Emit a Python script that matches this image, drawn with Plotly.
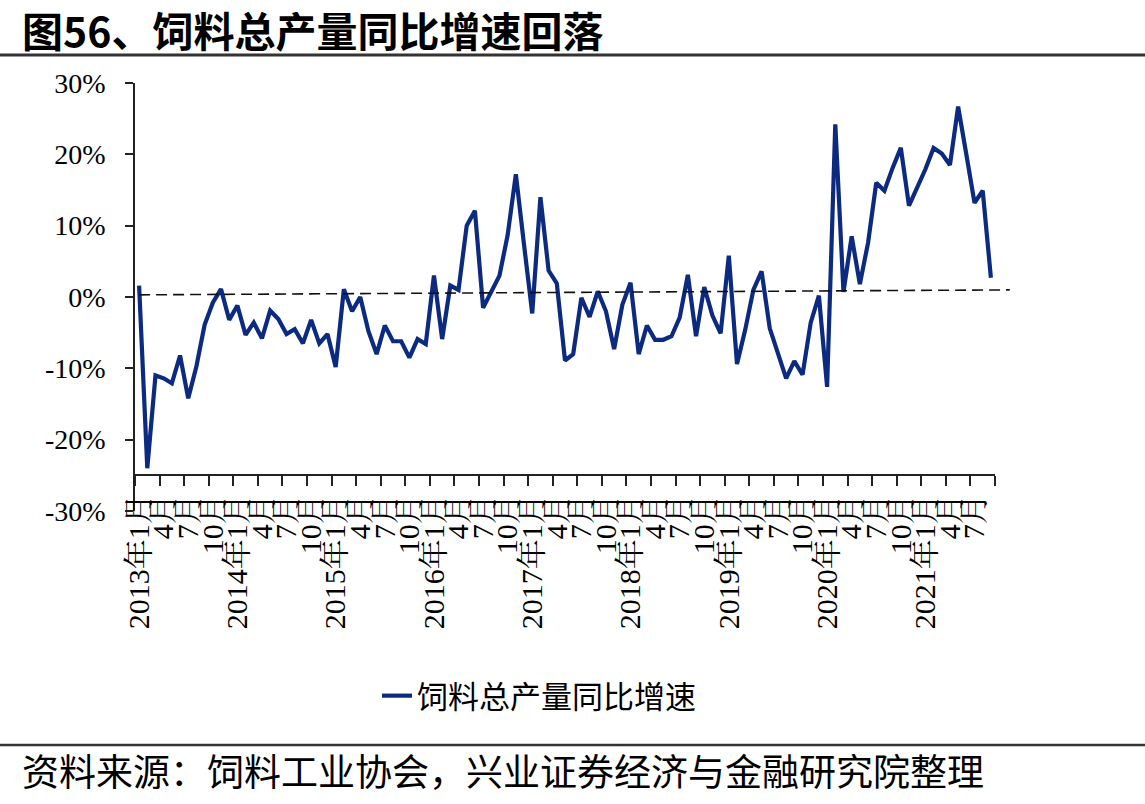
import plotly.graph_objects as go

# ---------------- data ----------------
start_year = 2013
growth = [  # 饲料总产量同比增速 (%), 2013-01 .. 2021-09
    1.6, -24.0, -11.0, -11.4, -12.1, -8.2, -14.2, -9.7, -3.9, -0.8, 1.1, -3.2,
    -1.2, -5.3, -3.6, -5.8, -1.9, -3.1, -5.2, -4.5, -6.5, -3.2, -6.5, -5.2,
    -9.8, 1.1, -2.0, 0.0, -4.8, -8.0, -4.0, -6.2, -6.2, -8.5, -5.9, -6.6,
    3.0, -5.9, 1.6, 1.0, 10.0, 12.1, -1.5, 0.6, 3.0, 8.7, 17.2, 7.3,
    -2.3, 14.0, 3.7, 1.9, -8.9, -8.0, -0.1, -2.8, 0.8, -2.0, -7.3, -1.1,
    2.0, -8.0, -4.0, -6.0, -6.0, -5.5, -2.9, 3.1, -5.5, 1.4, -2.6, -5.1,
    5.8, -9.4, -4.6, 1.0, 3.6, -4.4, -7.9, -11.4, -9.0, -10.9, -3.6, 0.2,
    -12.6, 24.2, 0.7, 8.5, 1.8, 7.6, 16.0, 14.9, 18.1, 20.9, 12.8, 15.3,
    17.9, 20.9, 20.1, 18.5, 26.7, 20.0, 13.2, 14.9, 2.7,
]
months = list(range(len(growth)))
month_labels = [
    (f"{start_year + i // 12}年{i % 12 + 1}月" if i % 12 == 0 else f"{i % 12 + 1}月")
    for i in months
]
label_idx = months[::3]
label_text = [month_labels[i] for i in label_idx]

ref_x = [0, 106.3]          # dashed reference line (start / end month index)
ref_y = [0.3, 1.0]

y_ticks = [-30, -20, -10, 0, 10, 20, 30]
y_tick_text = ["-30%", "-20%", "-10%", "0%", "10%", "20%", "30%"]

title = "图56、饲料总产量同比增速回落"
series_name = "饲料总产量同比增速"
source = "资料来源：饲料工业协会，兴业证券经济与金融研究院整理"

# ---------------- layout geometry ----------------
W, H = 1145, 804
L, R, T, B = 135, 100, 83, 293
PW = W - L - R
PH = H - T - B
n = len(growth)
main_w = 860
ext_w = 875
cat_w = main_w / n


def px2x(px):
    return (px - L) / PW


def py2y(py):
    return (H - B - py) / PH


serif = "Liberation Serif, Times New Roman, Noto Serif CJK SC, Noto Sans CJK SC, serif"
cjk = "Noto Sans CJK SC, sans-serif"
navy = "#0B2A80"

fig = go.Figure()
fig.add_trace(go.Scatter(
    x=months, y=growth, mode="lines", name=series_name,
    line=dict(color=navy, width=4.2), xaxis="x", yaxis="y",
))
fig.add_trace(go.Scatter(
    x=ref_x, y=ref_y, mode="lines", showlegend=False,
    line=dict(color="#111111", width=1.6, dash="11px,6px"), xaxis="x2", yaxis="y",
))

bounds = [i - 0.5 for i in range(0, n + 1, 3)]

fig.update_layout(
    width=W, height=H,
    margin=dict(l=L, r=R, t=T, b=B, autoexpand=False),
    paper_bgcolor="white", plot_bgcolor="rgba(0,0,0,0)",
    showlegend=True,
    xaxis=dict(
        domain=[0, main_w / PW], range=[-0.5, n - 0.5],
        anchor="free", position=5 / 60,
        tickmode="array", tickvals=label_idx, ticktext=label_text,
        ticks="", tickangle=-90, ticklabelstandoff=6,
        tickfont=dict(family=serif, size=30, color="black"),
        showline=True, linecolor="#222222", linewidth=1.6,
        showgrid=False, zeroline=False,
        minor=dict(tickmode="array", tickvals=bounds, ticks="outside",
                   ticklen=10, tickwidth=1.6, tickcolor="#222222", showgrid=False),
    ),
    xaxis2=dict(
        domain=[0, ext_w / PW], range=[-0.5, -0.5 + ext_w / cat_w],
        anchor="y", visible=False, showgrid=False, zeroline=False,
    ),
    yaxis=dict(
        domain=[0, 1], range=[-30, 30], anchor="x",
        tickmode="array", tickvals=y_ticks, ticktext=y_tick_text,
        ticks="outside", ticklen=8, tickwidth=1.6, tickcolor="#222222",
        ticklabelstandoff=14,
        tickfont=dict(family=serif, size=28, color="black"),
        showline=True, linecolor="#222222", linewidth=1.6,
        showgrid=False, zeroline=False,
    ),
    legend=dict(
        orientation="h", x=px2x(377), y=py2y(696), xanchor="left", yanchor="middle",
        font=dict(family=cjk, size=31, color="black"), bgcolor="rgba(0,0,0,0)",
    ),
    annotations=[
        dict(
            text="<b>" + title + "</b>", xref="paper", yref="paper",
            x=px2x(20), y=py2y(29), xanchor="left", yanchor="middle",
            showarrow=False, font=dict(family=cjk, size=41, color="black"),
        ),
        dict(
            text=source, xref="paper", yref="paper",
            x=px2x(20), y=py2y(770), xanchor="left", yanchor="middle",
            showarrow=False, font=dict(family=cjk, size=37, color="black"),
        ),
    ],
    shapes=[
        dict(type="line", xref="paper", yref="paper", x0=px2x(0), x1=px2x(W),
             y0=py2y(55), y1=py2y(55), line=dict(color="#333333", width=3)),
        dict(type="line", xref="paper", yref="paper", x0=px2x(0), x1=px2x(W),
             y0=py2y(745), y1=py2y(745), line=dict(color="#333333", width=2.5)),
    ],
)

fig.write_html("out.html")
